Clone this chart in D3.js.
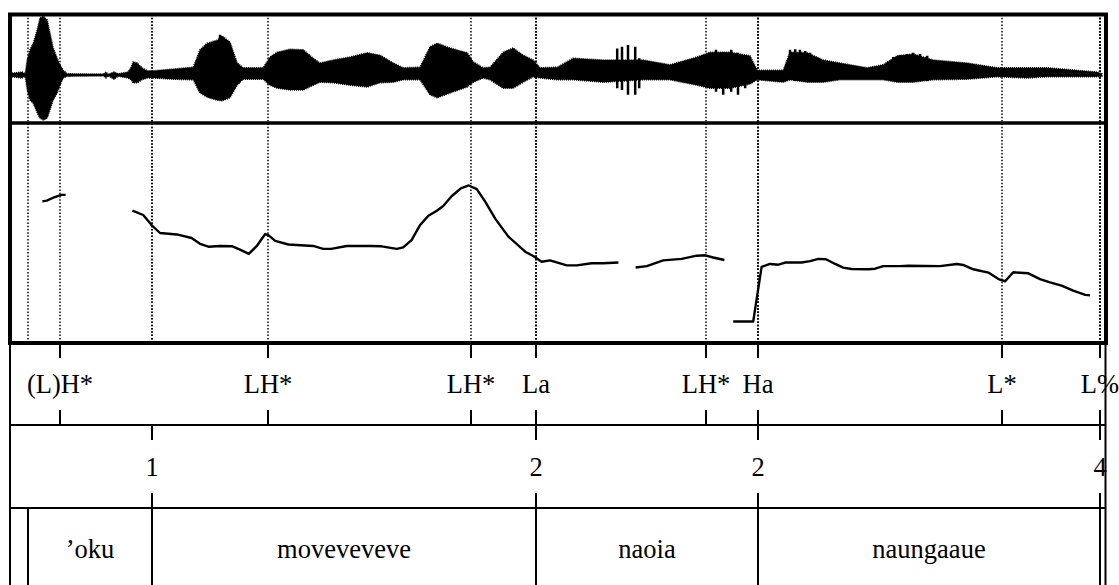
<!DOCTYPE html>
<html>
<head>
<meta charset="utf-8">
<script src="https://cdn.jsdelivr.net/npm/d3@7"></script>
<style>
  body { margin: 0; background: #fff; }
  text { font-family: "Liberation Serif", "Times New Roman", serif; font-size: 26.5px; fill: #000; }
</style>
</head>
<body>
<svg id="chart" width="1119" height="585"></svg>
<script>
// ---- tiers (time in seconds)
const toneTimes  = [0.125, 0.645, 1.1525, 1.315, 1.74, 1.87, 2.48, 2.725];
const toneLabels = ["(L)H*", "LH*", "LH*", "La", "LH*", "Ha", "L*", "L%"];

const breakTimes  = [0.355, 1.315, 1.87, 2.725];
const breakLabels = ["1", "2", "2", "4"];

const wordBounds = [0.045, 0.355, 1.315, 1.87, 2.725];
const words      = ["\u2019oku", "moveveveve", "naoia", "naungaaue"];

// ---- F0 track (Hz), voiced stretches
const pitch1 = [[0.081,244],[0.092,245],[0.108,249],[0.129,253],[0.139,253]];
const pitch2 = [[0.306,231],[0.333,225],[0.354,211],[0.375,200],[0.417,198],[0.454,193],
  [0.475,185],[0.496,181],[0.525,182],[0.556,181.5],[0.575,177],[0.597,171],[0.617,182],
  [0.638,198.6],[0.646,197],[0.663,189],[0.696,184],[0.758,182],[0.783,178],[0.803,178],
  [0.842,182],[0.900,182],[0.929,181.5],[0.967,178],[0.983,180],[1.004,190],[1.025,211],
  [1.046,224],[1.067,231],[1.083,237.5],[1.104,251],[1.127,262],[1.147,266],[1.167,261],
  [1.188,243.5],[1.213,220],[1.246,195],[1.288,174],[1.308,168],[1.329,160],[1.350,162],
  [1.392,155],[1.417,155],[1.454,158],[1.483,158],[1.521,159]];
const pitch3 = [[1.564,152],[1.592,154],[1.633,162],[1.679,164],[1.717,168.5],[1.738,169],
  [1.758,166],[1.786,162.5]];
const pitch4 = [[1.808,77],[1.858,77],[1.879,153],[1.900,157],[1.921,156],[1.938,159],
  [1.979,159],[2.000,161],[2.021,164],[2.040,163.5],[2.063,157],[2.083,152],[2.104,150],
  [2.146,149.6],[2.163,150.4],[2.183,154],[2.225,154],[2.246,154.6],[2.325,154],[2.367,157],
  [2.383,155.6],[2.408,149.6],[2.446,145],[2.471,136],[2.488,133],[2.508,145.4],[2.546,144],
  [2.575,136],[2.600,131.5],[2.629,127],[2.658,120],[2.688,114],[2.700,113.5]];
const pitchSegments = [pitch1, pitch2, pitch3, pitch4];

// ---- waveform amplitude envelope [t, upper, lower]
const envelope = [[0.005,0.03,-0.03],[0.03,0.05,-0.05],[0.038,0.02,-0.02],[0.043,0.25,-0.25],
  [0.05,0.42,-0.42],[0.058,0.53,-0.47],[0.068,0.75,-0.63],[0.075,0.95,-0.72],[0.083,0.98,-0.75],
  [0.093,0.92,-0.72],[0.1,0.7,-0.58],[0.108,0.45,-0.42],[0.118,0.28,-0.3],[0.125,0.17,-0.17],
  [0.133,0.08,-0.05],[0.143,0.02,-0.02],[0.233,0.01,-0.01],[0.24,0.05,-0.05],[0.245,0.01,-0.01],
  [0.26,0.05,-0.07],[0.27,0.02,-0.02],[0.295,0.05,-0.05],[0.303,0.13,-0.08],[0.308,0.22,-0.13],
  [0.318,0.2,-0.13],[0.33,0.12,-0.08],[0.343,0.07,-0.05],[0.358,0.07,-0.05],[0.408,0.1,-0.07],
  [0.458,0.13,-0.08],[0.475,0.42,-0.3],[0.493,0.53,-0.37],[0.518,0.58,-0.42],[0.53,0.65,-0.43],
  [0.55,0.55,-0.38],[0.568,0.2,-0.17],[0.583,0.12,-0.07],[0.633,0.12,-0.07],[0.65,0.3,-0.17],
  [0.668,0.38,-0.22],[0.7,0.43,-0.25],[0.733,0.42,-0.25],[0.758,0.28,-0.17],[0.775,0.2,-0.12],
  [0.808,0.25,-0.13],[0.85,0.3,-0.17],[0.893,0.37,-0.2],[0.925,0.33,-0.13],[0.958,0.2,-0.12],
  [0.983,0.12,-0.08],[1.025,0.13,-0.08],[1.05,0.47,-0.33],[1.068,0.53,-0.38],[1.1,0.45,-0.3],
  [1.143,0.37,-0.2],[1.158,0.22,-0.12],[1.183,0.12,-0.05],[1.2,0.13,-0.08],[1.233,0.38,-0.22],
  [1.258,0.45,-0.22],[1.283,0.33,-0.12],[1.308,0.25,-0.03],[1.325,0.12,-0.05],[1.368,0.13,-0.08],
  [1.408,0.28,-0.08],[1.483,0.25,-0.12],[1.583,0.25,-0.08],[1.65,0.17,-0.08],[1.718,0.3,-0.17],
  [1.75,0.38,-0.22],[1.8,0.38,-0.22],[1.85,0.32,-0.15],[1.868,0.08,-0.08],[1.933,0.08,-0.12],
  [1.95,0.38,-0.08],[1.993,0.37,-0.12],[2.033,0.25,-0.12],[2.075,0.2,-0.08],[2.143,0.12,-0.08],
  [2.183,0.17,-0.08],[2.218,0.32,-0.12],[2.258,0.35,-0.12],[2.308,0.25,-0.08],[2.393,0.2,-0.07],
  [2.468,0.12,-0.03],[2.543,0.12,-0.05],[2.593,0.12,-0.03],[2.718,0.05,-0.03],[2.73,0.02,-0.02]];

// glottal pulses that stick out of the envelope [t, upper, lower]
const pulses = [[0.525,0.67,-0.42],[1.518,0.44,-0.22],[1.53,0.47,-0.25],[1.545,0.5,-0.33],
  [1.563,0.47,-0.33],[1.573,0.28,-0.22],[1.765,0.42,-0.28],[1.783,0.38,-0.33],[1.803,0.42,-0.28],
  [1.82,0.37,-0.33],[1.838,0.33,-0.22],[1.95,0.42,-0.08],[1.963,0.43,-0.1],[1.975,0.42,-0.1],
  [1.988,0.4,-0.1],[2.0,0.37,-0.1],[2.208,0.3,-0.1],[2.225,0.33,-0.1],[2.243,0.35,-0.1],
  [2.258,0.37,-0.1],[2.275,0.35,-0.1],[2.293,0.32,-0.1]];

// ---- layout
const L = 10, R = 1106;
const waveTop = 14.5, waveBot = 123, pitchBot = 343, toneBot = 425, breakBot = 508, wordBot = 591;
const tickLen = 15;

const svg = d3.select("#chart");
svg.append("rect").attr("width", 1119).attr("height", 585).attr("fill", "#fff");

const x = d3.scaleLinear().domain([0, 2.74]).range([L, R]);
const yWave = d3.scaleLinear().domain([-1, 1]).range([135, 15]);
const yPitch = d3.scaleLinear().domain([50, 350]).range([341, 125]);

svg.append("clipPath").attr("id", "waveClip")
   .append("rect").attr("x", L).attr("y", waveTop).attr("width", R - L).attr("height", waveBot - waveTop);

const wave = svg.append("g").attr("clip-path", "url(#waveClip)");

wave.append("line")
    .attr("x1", x(0.005)).attr("x2", x(2.73))
    .attr("y1", yWave(0)).attr("y2", yWave(0))
    .attr("stroke", "#000").attr("stroke-width", 2.5);

wave.append("path")
    .datum(envelope)
    .attr("d", d3.area().x(d => x(d[0])).y0(d => yWave(d[2])).y1(d => yWave(d[1])))
    .attr("fill", "#000")
    .attr("stroke", "#000")
    .attr("stroke-width", 1.5)
    .attr("stroke-dasharray", "1,1");

wave.selectAll("line.pulse")
    .data(pulses)
    .enter()
    .append("line")
    .attr("class", "pulse")
    .attr("x1", d => x(d[0])).attr("x2", d => x(d[0]))
    .attr("y1", d => yWave(d[1])).attr("y2", d => yWave(d[2]))
    .attr("stroke", "#000").attr("stroke-width", 2.5);

// pitch
const pitchLine = d3.line().x(d => x(d[0])).y(d => yPitch(d[1]));
svg.selectAll("path.f0")
   .data(pitchSegments)
   .enter()
   .append("path")
   .attr("class", "f0")
   .attr("d", pitchLine)
   .attr("fill", "none")
   .attr("stroke", "#000")
   .attr("stroke-width", 2.4)
   .attr("stroke-linejoin", "round");

// dotted marks through both panels
const markTimes = toneTimes.concat(breakTimes, wordBounds);
svg.selectAll("line.mark")
   .data(markTimes)
   .enter()
   .append("line")
   .attr("class", "mark")
   .attr("x1", d => x(d)).attr("x2", d => x(d))
   .attr("y1", waveTop).attr("y2", pitchBot)
   .attr("stroke", "#000").attr("stroke-width", 1.5)
   .attr("stroke-dasharray", "1.5,1.8");

// tier labels
svg.selectAll("text.tone")
   .data(toneLabels)
   .enter()
   .append("text")
   .attr("class", "tone")
   .attr("x", (d, i) => x(toneTimes[i]))
   .attr("y", (pitchBot + toneBot) / 2 + 9)
   .attr("text-anchor", "middle")
   .text(d => d);

svg.selectAll("text.brk")
   .data(breakLabels)
   .enter()
   .append("text")
   .attr("class", "brk")
   .attr("x", (d, i) => x(breakTimes[i]))
   .attr("y", (toneBot + breakBot) / 2 + 9)
   .attr("text-anchor", "middle")
   .text(d => d);

svg.selectAll("text.word")
   .data(words)
   .enter()
   .append("text")
   .attr("class", "word")
   .attr("x", (d, i) => (x(wordBounds[i]) + x(wordBounds[i + 1])) / 2)
   .attr("y", 558)
   .attr("text-anchor", "middle")
   .text(d => d);

// ticks in the point tiers
function ticks(times, top, bot) {
    const g = svg.append("g").attr("stroke", "#000").attr("stroke-width", 2);
    times.forEach(t => {
        g.append("line").attr("x1", x(t)).attr("x2", x(t)).attr("y1", top).attr("y2", top + tickLen);
        g.append("line").attr("x1", x(t)).attr("x2", x(t)).attr("y1", bot - tickLen).attr("y2", bot);
    });
}
ticks(toneTimes, pitchBot, toneBot);
ticks(breakTimes, toneBot, breakBot);

// word boundaries
svg.selectAll("line.wb")
   .data(wordBounds)
   .enter()
   .append("line")
   .attr("class", "wb")
   .attr("x1", d => x(d)).attr("x2", d => x(d))
   .attr("y1", breakBot).attr("y2", wordBot)
   .attr("stroke", "#000").attr("stroke-width", 2);

// tier frame
const frame = svg.append("g").attr("stroke", "#000").attr("stroke-width", 2).attr("fill", "none");
frame.append("line").attr("x1", L).attr("x2", L).attr("y1", pitchBot).attr("y2", wordBot);
frame.append("line").attr("x1", R - 0.5).attr("x2", R - 0.5).attr("y1", pitchBot).attr("y2", wordBot);
[toneBot, breakBot].forEach(yy =>
    frame.append("line").attr("x1", L).attr("x2", R).attr("y1", yy).attr("y2", yy));

// thick panel frame
const panel = svg.append("g").attr("stroke", "#000").attr("fill", "none");
panel.append("rect")
     .attr("x", L).attr("y", waveTop).attr("width", R - L).attr("height", pitchBot - waveTop)
     .attr("stroke-width", 4);
panel.append("line")
     .attr("x1", L).attr("x2", R).attr("y1", waveBot).attr("y2", waveBot)
     .attr("stroke-width", 3.5);
</script>
</body>
</html>
